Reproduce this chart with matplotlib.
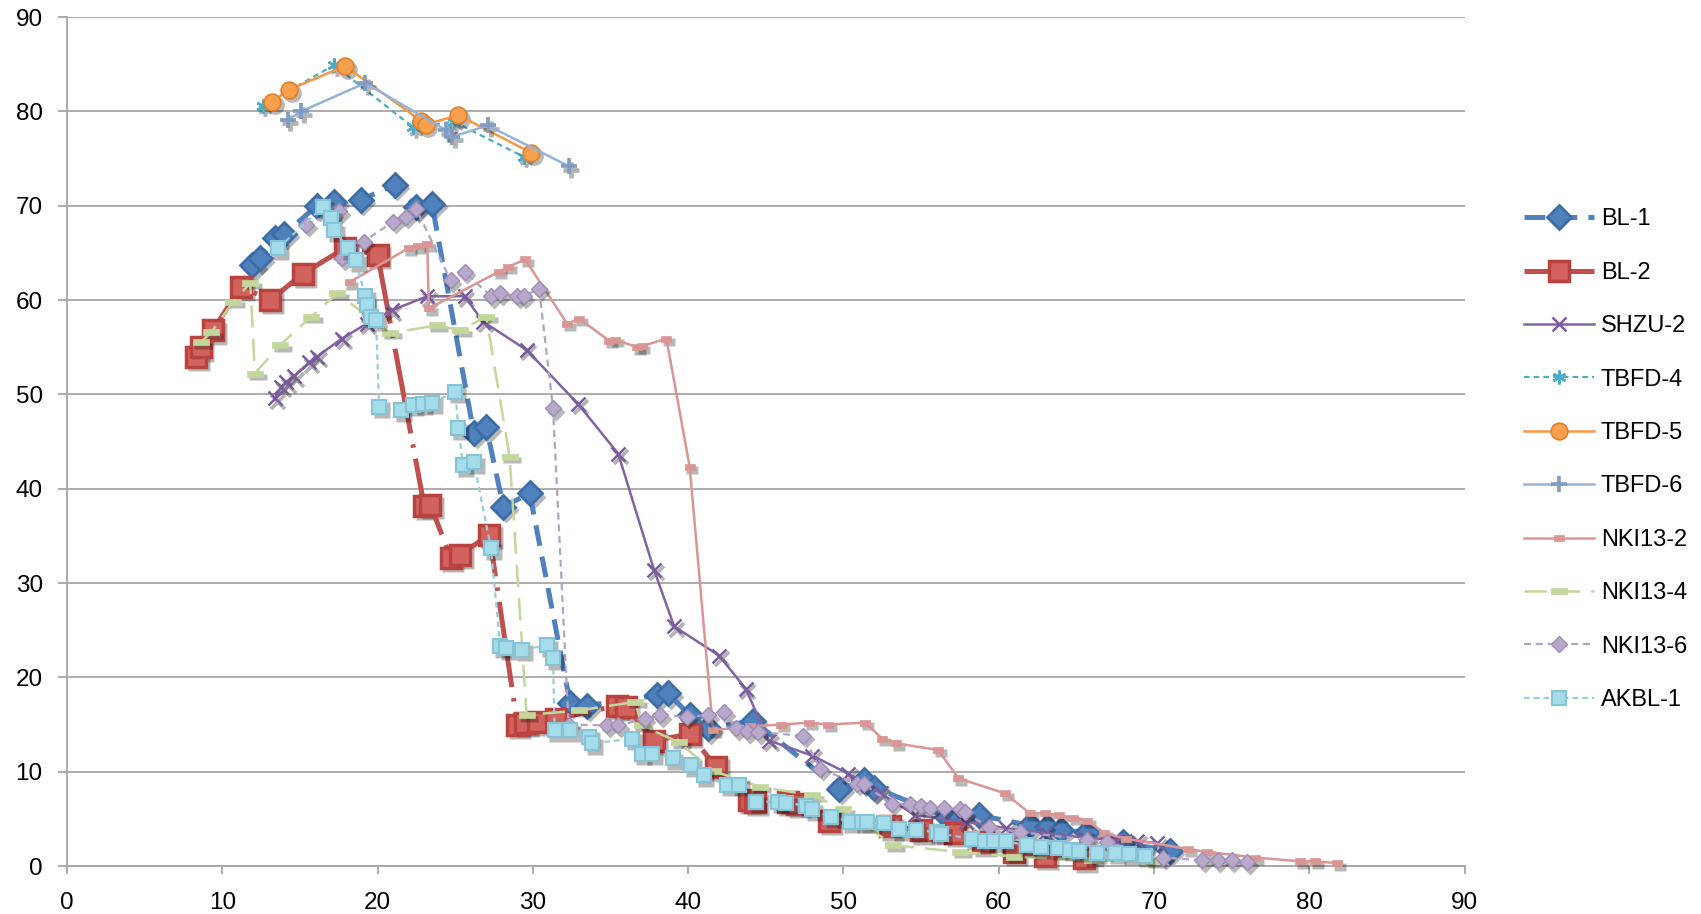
import matplotlib
matplotlib.use("Agg")
import matplotlib.pyplot as plt
from matplotlib import transforms

# series values (x, y)
bl1_x = [11.9, 12.4, 13.4, 14.0, 16.1, 17.2, 18.9, 21.1, 22.5, 23.5, 26.2, 27.0, 28.1, 29.8,
         32.4, 33.5, 38.0, 38.7, 40.1, 41.3, 44.2, 49.7, 51.3, 52.0, 56.7, 58.7, 62.0, 63.1,
         64.0, 65.7, 68.0, 71.0]
bl1_y = [63.7, 64.4, 66.6, 67.0, 70.0, 70.4, 70.6, 72.2, 69.9, 70.2, 45.9, 46.5, 38.1, 39.5,
         17.3, 17.0, 18.1, 18.3, 16.0, 14.6, 15.4, 8.2, 9.1, 8.3, 5.2, 5.4, 4.3, 4.1,
         3.8, 3.6, 2.5, 1.6]

bl2_x = [8.3, 8.6, 9.4, 11.2, 13.1, 15.2, 17.9, 20.0, 23.0, 23.4, 24.7, 25.3, 27.2, 29.0,
         29.5, 30.3, 31.5, 35.4, 36.0, 37.8, 40.1, 41.8, 43.9, 44.3, 46.4, 47.0, 49.1, 53.0,
         55.0, 57.2, 59.0, 61.0, 63.0, 65.5]
bl2_y = [54.0, 55.0, 56.8, 61.4, 60.0, 62.8, 65.5, 64.8, 38.2, 38.3, 32.7, 33.0, 35.1, 15.0,
         15.2, 15.3, 15.6, 17.0, 16.9, 13.3, 14.0, 10.5, 7.0, 6.8, 6.8, 6.6, 4.8, 4.2,
         3.8, 3.5, 2.5, 1.5, 1.1, 0.8]

shzu2_x = [13.4, 13.8, 14.1, 14.6, 15.6, 16.1, 17.7, 19.3, 20.9, 23.2, 25.6, 26.8, 29.6,
           32.9, 35.5, 37.8, 39.1, 42.0, 43.7, 45.2, 48.0, 50.3, 52.4, 54.6, 57.9, 60.5,
           63.0, 65.5, 67.5, 68.9, 70.2]
shzu2_y = [49.6, 50.8, 51.3, 51.9, 53.4, 54.0, 55.9, 57.5, 58.9, 60.4, 60.4, 57.7, 54.7,
           49.0, 43.7, 31.4, 25.4, 22.3, 18.8, 13.3, 11.7, 9.8, 7.7, 5.4, 4.7, 4.0,
           3.5, 3.0, 2.8, 2.7, 2.4]

tbfd4_x = [12.6, 17.2, 22.3, 24.9, 29.4]
tbfd4_y = [80.6, 84.9, 78.3, 78.9, 75.2]

tbfd5_x = [13.2, 14.3, 17.9, 22.8, 23.1, 25.2, 29.9]
tbfd5_y = [81.0, 82.3, 84.8, 79.0, 78.6, 79.6, 75.6]

tbfd6_x = [14.2, 15.1, 19.2, 24.4, 24.8, 27.1, 32.3]
tbfd6_y = [79.1, 80.0, 83.0, 78.0, 77.3, 78.5, 74.2]

nki2_x = [18.2, 22.0, 22.6, 23.2, 23.3, 27.8, 28.4, 29.5, 32.2, 33.0, 34.9, 35.3, 36.7, 37.0,
          38.6, 40.1, 41.6, 44.0, 46.0, 47.8, 49.0, 51.4, 52.5, 53.4, 56.1, 57.4, 60.4, 62.0,
          63.0, 63.9, 64.8, 65.7, 66.8, 68.2, 72.2, 73.4, 76.5, 79.4, 80.4, 81.8]
nki2_y = [61.9, 65.5, 65.7, 65.9, 59.1, 63.0, 63.5, 64.3, 57.5, 58.0, 55.7, 55.8, 55.0, 55.1,
          55.9, 42.3, 14.4, 14.8, 15.0, 15.2, 15.0, 15.2, 13.5, 13.0, 12.3, 9.3, 7.7, 5.6,
          5.6, 5.4, 5.1, 4.8, 3.5, 2.9, 1.8, 1.5, 0.9, 0.5, 0.5, 0.3]

nki4_x = [8.6, 9.3, 10.7, 11.8, 12.1, 13.7, 15.7, 17.4, 20.8, 23.8, 25.3, 27.0, 28.5, 29.6,
          33.0, 36.6, 37.0, 39.4, 41.6, 44.6, 48.0, 50.0, 53.2, 57.5, 61.0, 66.0, 70.0]
nki4_y = [55.5, 56.6, 59.8, 61.8, 52.2, 55.2, 58.2, 60.7, 56.5, 57.3, 56.8, 58.2, 43.4, 16.0,
          16.5, 17.4, 14.9, 13.1, 10.1, 8.4, 7.5, 6.0, 2.2, 1.5, 1.0, 0.6, 0.5]

nki6_x = [15.4, 17.1, 17.5, 17.7, 19.1, 21.0, 21.8, 22.5, 24.7, 25.6, 27.3, 27.9, 29.0, 29.4,
          30.4, 31.3, 32.3, 34.8, 35.5, 37.2, 38.2, 39.9, 41.3, 42.3, 43.1, 43.8, 44.5, 47.4,
          48.5, 50.9, 51.3, 53.1, 54.3, 55.0, 55.6, 56.5, 57.5, 57.8, 59.4, 61.4, 65.7, 67.0,
          70.6, 73.1, 74.1, 75.0, 76.0]
nki6_y = [68.0, 69.2, 69.4, 64.4, 66.2, 68.3, 68.8, 69.6, 62.1, 63.0, 60.4, 60.7, 60.4, 60.4,
          61.2, 48.5, 15.0, 14.9, 14.9, 15.6, 16.0, 15.8, 16.0, 16.3, 14.6, 14.3, 14.2, 13.8,
          10.3, 8.7, 8.7, 6.6, 6.6, 6.4, 6.2, 6.2, 6.0, 5.7, 4.1, 3.6, 2.8, 2.5,
          0.9, 0.6, 0.6, 0.6, 0.4]

akbl1_x = [13.6, 16.5, 17.0, 17.2, 18.1, 18.6, 19.2, 19.3, 19.6, 19.9, 20.1, 21.5, 22.3, 22.9,
           23.5, 25.0, 25.2, 25.5, 26.2, 27.3, 27.9, 28.3, 29.3, 30.9, 31.3, 31.4, 32.4, 33.6,
           33.8, 36.4, 37.0, 37.7, 39.0, 40.2, 41.0, 42.5, 43.3, 44.4, 45.8, 46.3, 47.6, 48.0,
           49.2, 50.4, 51.2, 51.5, 52.6, 53.6, 54.7, 56.0, 56.3, 58.3, 59.1, 59.7, 60.5, 61.8,
           62.7, 63.8, 64.6, 65.2, 66.3, 67.5, 68.4, 69.4]
akbl1_y = [65.5, 69.9, 68.7, 67.4, 65.5, 64.2, 60.4, 59.5, 58.2, 57.9, 48.7, 48.3, 48.9, 49.0,
           49.1, 50.3, 46.4, 42.5, 42.8, 33.7, 23.3, 23.1, 22.9, 23.4, 22.0, 14.4, 14.4, 13.7,
           13.0, 13.5, 11.9, 11.9, 11.4, 10.7, 9.6, 8.6, 8.6, 6.8, 6.8, 6.7, 6.4, 6.0,
           5.2, 4.7, 4.7, 4.7, 4.6, 3.9, 3.8, 3.6, 3.4, 2.9, 2.7, 2.6, 2.6, 2.2,
           2.0, 1.9, 1.7, 1.6, 1.4, 1.4, 1.3, 1.1]

labels = ["BL-1", "BL-2", "SHZU-2", "TBFD-4", "TBFD-5", "TBFD-6",
          "NKI13-2", "NKI13-4", "NKI13-6", "AKBL-1"]

plt.rcParams["font.family"] = ["Liberation Sans", "DejaVu Sans"]
plt.rcParams["lines.scale_dashes"] = False

flat2 = [(-1, -0.6), (1, -0.6), (1, 0.6), (-1, 0.6), (-1, -0.6)]
flat4 = [(-1, -0.4), (1, -0.4), (1, 0.4), (-1, 0.4), (-1, -0.4)]

styles = [
    dict(color="#4F81BD", lw=3.6, dashes=(15, 8), marker="D", ms=12, mfc="#4F81BD", mec="#3C6DA6", mew=2),
    dict(color="#C0504D", lw=3.6, dashes=(62, 8, 2.5, 8), marker="s", ms=15, mfc="#D2625E", mec="#B8433F", mew=2.5),
    dict(color="#8064A2", lw=1.8, ls="-", marker="x", ms=10, mec="#7A5C9E", mew=1.8),
    dict(color="#4BACC6", lw=1.6, dashes=(4, 3), marker=(6, 2, 0), ms=10, mec="#4BACC6", mew=1.8),
    dict(color="#F79646", lw=1.8, ls="-", marker="o", ms=12, mfc="#F9A04F", mec="#E07F2C", mew=1.2),
    dict(color="#95B3D7", lw=1.8, ls="-", marker="+", ms=11, mec="#7F9CC2", mew=2.6),
    dict(color="#D99694", lw=1.8, ls="-", marker=flat2, ms=7, mfc="#D99694", mec="#D99694", mew=0.5),
    dict(color="#C3D69B", lw=1.8, dashes=(16, 8), marker=flat4, ms=11, mfc="#C3D69B", mec="#C3D69B", mew=0.5),
    dict(color="#B3A2C7", lw=1.6, dashes=(5, 3.5), marker="D", ms=8, mfc="#B8A8CC", mec="#9E8CB5", mew=1),
    dict(color="#93CDDD", lw=1.6, dashes=(4, 3), marker="s", ms=10, mfc="#A5DCEA", mec="#86C3D6", mew=1.5),
]

series = [(bl1_x, bl1_y), (bl2_x, bl2_y), (shzu2_x, shzu2_y), (tbfd4_x, tbfd4_y),
          (tbfd5_x, tbfd5_y), (tbfd6_x, tbfd6_y), (nki2_x, nki2_y), (nki4_x, nki4_y),
          (nki6_x, nki6_y), (akbl1_x, akbl1_y)]

fig = plt.figure(figsize=(17.01, 9.14), dpi=100)
ax = fig.add_axes([0.0394, 0.0525, 0.8216, 0.9289])

shadow = transforms.offset_copy(ax.transData, fig=fig, x=2.0, y=-2.5, units="points")

handles = []
for i, ((xs, ys), st) in enumerate(zip(series, styles)):
    z = 3 + i
    filled = st["marker"] not in ("x", "+") and not isinstance(st["marker"], tuple)
    # soft drop shadow under the markers
    if filled:
        ax.plot(xs, ys, ls="none", marker=st["marker"], ms=st["ms"] + 1.5,
                mfc="black", mec="none", alpha=0.28, transform=shadow,
                zorder=z - 0.5, clip_on=False)
    else:
        ax.plot(xs, ys, ls="none", marker=st["marker"], ms=st["ms"],
                mec="black", mew=st["mew"] + 0.8, alpha=0.3, transform=shadow,
                zorder=z - 0.5, clip_on=False)
    line, = ax.plot(xs, ys, label=labels[i], zorder=z, clip_on=False, **st)
    handles.append(line)

ax.set_xlim(0, 90)
ax.set_ylim(0, 90)
ax.set_xticks(range(0, 91, 10))
ax.set_yticks(range(0, 91, 10))
ax.yaxis.grid(True, color="#A6A6A6", lw=1.3)
ax.set_axisbelow(True)
for side in ("top", "right"):
    ax.spines[side].set_visible(False)
for side in ("left", "bottom"):
    ax.spines[side].set_color("#A6A6A6")
    ax.spines[side].set_linewidth(1.3)
ax.tick_params(axis="y", direction="out", length=6.5, width=1.3, color="#A6A6A6",
               labelsize=17.5, pad=11)
ax.tick_params(axis="x", direction="out", length=6, width=1.3, color="#A6A6A6",
               labelsize=17.5, pad=13)

fig.legend(handles=handles, labels=labels, loc="center left",
           bbox_to_anchor=(0.896, 0.497), frameon=False, fontsize=17,
           handlelength=2.95, handletextpad=0.3, labelspacing=1.33,
           borderpad=0, borderaxespad=0, numpoints=1)

fig.savefig("out.png", dpi=100)
